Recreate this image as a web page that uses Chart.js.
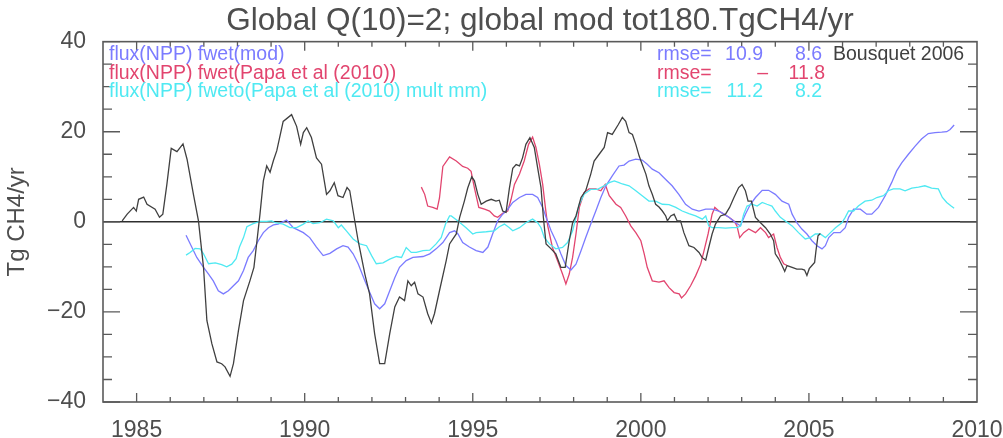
<!DOCTYPE html>
<html lang="en">
<head>
    <meta charset="UTF-8">
    <title>Global Q(10)=2; global mod tot180.TgCH4/yr</title>
    <style>
        html, body {
            margin: 0;
            padding: 0;
            background: #ffffff;
        }
        #wrap {
            width: 1003px;
            height: 438px;
        }
    </style>
    <script src="https://cdn.jsdelivr.net/npm/chart.js"></script>
</head>
<body>
    <div id="wrap"><canvas id="fluxChart" width="1003" height="438"></canvas></div>

    <script>
        // [year, Tg CH4/yr]
        const bousquet = [
            [1984.57, 0.2], [1984.72, 1.7], [1984.91, 3.2], [1984.99, 2.4], [1985.06, 5.0], [1985.21, 5.5],
            [1985.31, 3.9], [1985.55, 2.8], [1985.68, 1.0], [1985.78, 1.7], [1985.90, 8.3], [1986.03, 16.3],
            [1986.20, 15.6], [1986.38, 17.3], [1986.50, 13.9], [1986.69, 6.1], [1986.84, 0.2], [1986.99, -10.1],
            [1987.09, -21.9], [1987.24, -27.1], [1987.39, -31.1], [1987.53, -31.5], [1987.63, -32.2], [1987.78, -34.3],
            [1987.88, -31.5], [1988.03, -24.1], [1988.18, -17.5], [1988.37, -13.1], [1988.49, -10.1], [1988.57, -4.9],
            [1988.67, 1.7], [1988.77, 9.1], [1988.87, 12.4], [1988.97, 11.0], [1989.07, 13.6], [1989.17, 15.8],
            [1989.36, 22.3], [1989.61, 23.8], [1989.76, 21.2], [1989.88, 17.2], [1989.96, 19.8], [1990.06, 20.9],
            [1990.20, 18.7], [1990.35, 14.2], [1990.50, 12.8], [1990.65, 6.1], [1990.75, 6.9], [1990.88, 8.7],
            [1990.99, 5.8], [1991.14, 5.4], [1991.26, 7.6], [1991.34, 6.9], [1991.44, 2.4], [1991.59, -4.2],
            [1991.79, -11.6], [1991.93, -16.0], [1992.08, -24.8], [1992.23, -31.5], [1992.38, -31.5], [1992.53, -24.8],
            [1992.68, -18.9], [1992.82, -16.7], [1992.97, -17.5], [1993.07, -13.1], [1993.17, -14.2], [1993.27, -13.4],
            [1993.37, -16.0], [1993.52, -16.7], [1993.66, -20.4], [1993.77, -22.5], [1993.86, -20.4], [1994.01, -15.3],
            [1994.21, -8.6], [1994.31, -4.9], [1994.41, -3.8], [1994.51, -2.7], [1994.61, 1.0], [1994.75, 4.6],
            [1994.85, 7.5], [1994.97, 10.0], [1995.05, 9.1], [1995.15, 6.1], [1995.25, 3.9], [1995.40, 4.6],
            [1995.55, 5.0], [1995.69, 4.6], [1995.79, 4.8], [1995.89, 2.4], [1995.99, 2.1], [1996.09, 7.5],
            [1996.19, 11.9], [1996.29, 12.7], [1996.39, 12.4], [1996.48, 14.2], [1996.58, 17.2], [1996.70, 18.7],
            [1996.83, 16.5], [1996.93, 12.0], [1997.03, 7.6], [1997.10, 1.0], [1997.18, -4.9], [1997.33, -6.0],
            [1997.47, -7.1], [1997.62, -10.1], [1997.75, -10.1], [1997.87, -4.2], [1997.97, -0.2], [1998.07, 1.3],
            [1998.22, 5.4], [1998.36, 6.9], [1998.51, 10.6], [1998.61, 13.5], [1998.76, 15.0], [1998.91, 16.5],
            [1999.01, 19.8], [1999.15, 19.4], [1999.33, 21.6], [1999.45, 23.2], [1999.55, 22.3], [1999.65, 19.8],
            [1999.75, 19.4], [1999.85, 17.2], [1999.95, 14.6], [2000.04, 12.8], [2000.15, 10.6], [2000.24, 8.0],
            [2000.34, 6.1], [2000.44, 3.9], [2000.54, 3.3], [2000.64, 2.4], [2000.74, 1.3], [2000.79, 0.2],
            [2000.89, 1.3], [2000.99, 1.7], [2001.08, 0.2], [2001.18, 0.2], [2001.28, -2.4], [2001.43, -5.3],
            [2001.58, -5.7], [2001.73, -6.8], [2001.82, -7.9], [2001.93, -8.5], [2002.02, -5.7], [2002.12, -2.7],
            [2002.22, -0.5], [2002.37, 1.3], [2002.52, 1.7], [2002.64, 3.2], [2002.77, 5.4], [2002.91, 7.6],
            [2003.01, 8.3], [2003.11, 6.9], [2003.19, 4.6], [2003.29, 4.6], [2003.41, 1.0], [2003.56, -0.2],
            [2003.71, -1.3], [2003.85, -2.7], [2003.95, -4.2], [2004.00, -7.1], [2004.10, -8.2], [2004.20, -9.7],
            [2004.28, -11.0], [2004.35, -9.7], [2004.50, -10.1], [2004.64, -10.5], [2004.79, -10.5], [2004.87, -10.7],
            [2004.94, -11.9], [2005.01, -10.4], [2005.09, -9.7], [2005.17, -9.0], [2005.21, -6.4], [2005.27, -3.1],
            [2005.34, -2.6]
        ];

        const fwetMod = [
            [1986.47, -3.0], [1986.64, -5.6], [1986.79, -7.9], [1986.99, -10.1], [1987.14, -11.6], [1987.28, -13.1],
            [1987.43, -15.3], [1987.58, -16.0], [1987.73, -15.3], [1987.88, -14.2], [1988.03, -13.1], [1988.18, -10.8],
            [1988.32, -7.9], [1988.47, -6.4], [1988.62, -4.2], [1988.77, -2.4], [1988.92, -1.3], [1989.07, -0.7],
            [1989.21, -0.5], [1989.46, 0.4], [1989.66, -1.3], [1989.96, -2.4], [1990.15, -3.5], [1990.35, -5.6],
            [1990.55, -7.5], [1990.75, -7.0], [1990.95, -6.0], [1991.14, -5.3], [1991.29, -5.6], [1991.44, -7.1],
            [1991.59, -9.3], [1991.79, -13.1], [1991.93, -15.6], [1992.08, -18.2], [1992.23, -19.3], [1992.38, -18.2],
            [1992.53, -15.3], [1992.68, -12.4], [1992.82, -10.1], [1993.02, -8.6], [1993.22, -7.9], [1993.52, -7.7],
            [1993.72, -7.1], [1993.91, -6.0], [1994.11, -4.6], [1994.31, -2.4], [1994.46, -2.0], [1994.56, -2.7],
            [1994.70, -4.6], [1994.90, -5.6], [1995.10, -6.4], [1995.30, -6.8], [1995.45, -5.6], [1995.59, -2.7],
            [1995.74, 0.2], [1995.89, 1.7], [1996.04, 2.8], [1996.19, 4.3], [1996.39, 5.4], [1996.58, 6.1],
            [1996.78, 6.1], [1996.93, 5.4], [1997.08, 3.2], [1997.18, 1.0], [1997.33, -2.0], [1997.47, -4.2],
            [1997.62, -7.1], [1997.77, -9.7], [1997.92, -10.7], [1998.07, -9.4], [1998.22, -6.4], [1998.36, -3.5],
            [1998.51, -0.5], [1998.66, 2.4], [1998.81, 5.4], [1998.96, 8.0], [1999.15, 10.2], [1999.35, 12.4],
            [1999.50, 12.6], [1999.65, 13.5], [1999.85, 13.9], [2000.04, 13.7], [2000.19, 12.8], [2000.34, 11.7],
            [2000.54, 10.9], [2000.74, 9.4], [2000.93, 8.0], [2001.13, 6.1], [2001.33, 3.9], [2001.53, 2.8],
            [2001.73, 2.4], [2001.93, 2.8], [2002.12, 2.8], [2002.32, 2.4], [2002.47, 1.7], [2002.62, 1.0],
            [2002.82, -0.2], [2002.96, -0.9], [2003.11, 1.7], [2003.26, 3.9], [2003.41, 5.4], [2003.61, 7.0],
            [2003.80, 7.0], [2004.00, 6.1], [2004.20, 4.6], [2004.40, 3.9], [2004.50, 1.7], [2004.64, -0.2],
            [2004.79, -1.6], [2004.94, -2.7], [2005.09, -4.2], [2005.24, -5.3], [2005.39, -6.0], [2005.49, -5.3],
            [2005.59, -3.5], [2005.74, -2.4], [2005.93, -2.4], [2006.08, -1.3], [2006.18, 1.0], [2006.33, 2.8],
            [2006.53, 2.8], [2006.72, 1.7], [2006.87, 1.7], [2007.07, 3.2], [2007.27, 5.8], [2007.46, 8.7],
            [2007.61, 11.3], [2007.76, 13.1], [2007.96, 15.0], [2008.16, 16.8], [2008.35, 18.4], [2008.55, 19.6],
            [2008.75, 19.8], [2008.95, 19.9], [2009.10, 20.0], [2009.20, 20.5], [2009.32, 21.5]
        ];

        const fwetPapa = [
            [1993.47, 7.7], [1993.57, 6.1], [1993.66, 3.5], [1993.81, 3.2], [1993.94, 2.8], [1994.01, 5.3],
            [1994.11, 12.3], [1994.31, 14.4], [1994.51, 13.5], [1994.70, 12.3], [1994.85, 11.9], [1994.95, 11.2],
            [1995.05, 7.5], [1995.18, 3.2], [1995.35, 2.8], [1995.50, 2.4], [1995.64, 1.3], [1995.74, 1.0],
            [1995.89, 1.9], [1996.04, 2.4], [1996.14, 5.0], [1996.24, 8.3], [1996.39, 10.6], [1996.53, 13.5],
            [1996.66, 17.2], [1996.78, 18.8], [1996.88, 16.5], [1996.98, 12.8], [1997.08, 8.3], [1997.16, 3.2],
            [1997.23, -0.9], [1997.37, -5.7], [1997.52, -8.6], [1997.67, -11.6], [1997.77, -13.8], [1997.87, -11.6],
            [1997.97, -7.9], [1998.07, -2.7], [1998.17, 3.2], [1998.31, 6.5], [1998.46, 7.3], [1998.66, 7.3],
            [1998.81, 6.9], [1998.94, 8.3], [1999.06, 5.8], [1999.26, 3.9], [1999.40, 3.2], [1999.55, 1.3],
            [1999.70, -0.9], [1999.85, -2.4], [2000.00, -4.2], [2000.10, -7.1], [2000.19, -10.1], [2000.34, -13.1],
            [2000.54, -13.4], [2000.69, -13.1], [2000.84, -14.6], [2000.99, -15.7], [2001.14, -16.0], [2001.21, -16.9],
            [2001.33, -16.0], [2001.48, -14.2], [2001.63, -12.0], [2001.78, -9.4], [2001.88, -6.4], [2002.00, -2.7],
            [2002.12, 1.7], [2002.20, 3.2], [2002.32, 2.4], [2002.47, 1.7], [2002.62, 1.0], [2002.77, 0.2],
            [2002.86, -0.9], [2002.94, -3.5], [2003.06, -2.4], [2003.21, -1.6], [2003.41, -2.4], [2003.56, -1.3],
            [2003.71, -2.4], [2003.80, -3.5], [2003.95, -2.7], [2004.05, -5.7], [2004.15, -7.9], [2004.25, -9.3],
            [2004.35, -9.7]
        ];

        const fwetoPapaMult = [
            [1986.47, -7.4], [1986.59, -6.8], [1986.74, -5.9], [1986.89, -6.0], [1986.99, -7.1], [1987.14, -9.3],
            [1987.34, -9.1], [1987.53, -9.5], [1987.68, -10.0], [1987.83, -9.4], [1987.96, -8.2], [1988.06, -5.6],
            [1988.18, -3.5], [1988.28, -1.1], [1988.47, -0.4], [1988.67, 0.1], [1988.87, 0.1], [1989.02, 0.2],
            [1989.12, -0.2], [1989.36, -0.5], [1989.56, -1.3], [1989.76, -1.3], [1989.96, -0.5], [1990.10, 0.2],
            [1990.25, -0.4], [1990.45, -0.2], [1990.65, 0.6], [1990.85, 0.2], [1991.00, -1.3], [1991.09, -0.7],
            [1991.24, -2.0], [1991.44, -3.8], [1991.64, -4.9], [1991.84, -5.3], [1991.99, -7.5], [1992.13, -9.3],
            [1992.33, -9.1], [1992.53, -8.3], [1992.73, -7.7], [1992.88, -7.9], [1993.02, -5.7], [1993.17, -6.8],
            [1993.32, -6.8], [1993.52, -6.4], [1993.72, -6.3], [1993.91, -4.9], [1994.06, -3.5], [1994.19, -0.5],
            [1994.31, 1.3], [1994.36, 1.3], [1994.56, 0.2], [1994.80, -1.3], [1995.00, -2.7], [1995.10, -2.4],
            [1995.40, -2.2], [1995.64, -2.0], [1995.79, -1.1], [1995.94, -0.5], [1996.09, -1.3], [1996.19, -2.0],
            [1996.39, -1.3], [1996.58, -0.2], [1996.78, 0.6], [1996.93, -0.2], [1997.03, -1.3], [1997.13, -3.5],
            [1997.28, -4.9], [1997.47, -6.0], [1997.67, -5.7], [1997.82, -4.6], [1997.97, -2.0], [1998.07, 1.0],
            [1998.17, 3.9], [1998.31, 6.1], [1998.51, 7.2], [1998.71, 7.2], [1998.91, 8.0], [1999.06, 8.7],
            [1999.21, 9.1], [1999.35, 8.7], [1999.45, 8.4], [1999.65, 8.0], [1999.85, 6.9], [2000.04, 5.8],
            [2000.24, 4.6], [2000.44, 4.6], [2000.64, 3.9], [2000.84, 3.8], [2001.04, 3.2], [2001.23, 2.4],
            [2001.43, 1.8], [2001.63, 1.3], [2001.83, 0.6], [2001.93, 1.3], [2002.02, -0.9], [2002.12, -1.3],
            [2002.32, -1.3], [2002.52, -1.4], [2002.72, -1.3], [2002.87, -1.3], [2002.97, -0.9], [2003.06, 1.7],
            [2003.16, 3.5], [2003.31, 3.9], [2003.46, 3.5], [2003.61, 4.3], [2003.75, 3.9], [2003.90, 3.5],
            [2004.00, 2.4], [2004.15, 1.0], [2004.30, 0.2], [2004.50, -0.9], [2004.69, -2.4], [2004.89, -3.8],
            [2005.04, -3.5], [2005.19, -2.7], [2005.34, -2.7], [2005.49, -3.5], [2005.64, -2.4], [2005.79, -1.3],
            [2005.98, -0.2], [2006.08, 1.0], [2006.18, 2.4], [2006.33, 2.4], [2006.47, 3.5], [2006.67, 4.6],
            [2006.87, 4.8], [2007.02, 5.4], [2007.22, 5.8], [2007.36, 6.9], [2007.51, 7.3], [2007.71, 7.3],
            [2007.86, 6.9], [2008.06, 7.5], [2008.26, 7.7], [2008.45, 8.0], [2008.65, 7.5], [2008.85, 7.3],
            [2008.97, 5.4], [2009.10, 4.3], [2009.23, 3.5], [2009.32, 3.0]
        ];

        // axes
        const xLimits = [1984, 2010];
        const yLimits = [-40, 40];
        const xTickLabels = [1985, 1990, 1995, 2000, 2005, 2010];
        const xMinorTicks = [1985, 1986, 1987, 1988, 1989, 1990, 1991, 1992, 1993, 1994, 1995, 1996, 1997,
            1998, 1999, 2000, 2001, 2002, 2003, 2004, 2005, 2006, 2007, 2008, 2009];
        const yTickLabels = [-40, -20, 0, 20, 40];
        const yMinorTicks = [-35, -30, -25, -15, -10, -5, 5, 10, 15, 25, 30, 35];

        // legend text
        const seriesNames = ['flux(NPP) fwet(mod)', 'flux(NPP) fwet(Papa et al (2010))', 'flux(NPP) fweto(Papa et al (2010) mult mm)'];
        const rmseFirst = ['10.9', '\u2013', '11.2'];
        const rmseSecond = ['8.6', '11.8', '8.2'];
        const seriesColors = ['#7b7bff', '#e2456f', '#4fe9f2'];
        const refColor = '#404040';
        const textColor = '#4e4e4e';

        const FONT = '"Liberation Sans", Arial, sans-serif';

        const toPoints = arr => arr.map(p => ({ x: p[0], y: p[1] }));

        // frame, inward ticks, zero line and the text block in the top-left
        const idlFrame = {
            id: 'idlFrame',
            beforeDatasetsDraw(chart) {
                const { ctx, chartArea: a, scales: { y } } = chart;
                const y0 = y.getPixelForValue(0);
                ctx.save();
                ctx.strokeStyle = '#2e2e2e';
                ctx.lineWidth = 1.5;
                ctx.beginPath();
                ctx.moveTo(a.left, y0);
                ctx.lineTo(a.right, y0);
                ctx.stroke();
                ctx.restore();
            },
            afterDatasetsDraw(chart) {
                const { ctx, chartArea: a, scales: { x, y } } = chart;
                ctx.save();
                ctx.strokeStyle = '#5a5a5a';
                ctx.lineWidth = 1.6;
                ctx.strokeRect(a.left, a.top, a.right - a.left, a.bottom - a.top);

                ctx.lineWidth = 1.3;
                ctx.beginPath();
                xMinorTicks.forEach(v => {
                    const px = x.getPixelForValue(v);
                    const len = xTickLabels.includes(v) ? 9 : 5;
                    ctx.moveTo(px, a.bottom); ctx.lineTo(px, a.bottom - len);
                    ctx.moveTo(px, a.top); ctx.lineTo(px, a.top + len);
                });
                yTickLabels.concat(yMinorTicks).forEach(v => {
                    const py = y.getPixelForValue(v);
                    const len = yTickLabels.includes(v) ? 17 : 9;
                    ctx.moveTo(a.left, py); ctx.lineTo(a.left + len, py);
                    ctx.moveTo(a.right, py); ctx.lineTo(a.right - len, py);
                });
                ctx.stroke();

                ctx.font = '19.5px ' + FONT;
                ctx.textBaseline = 'middle';
                const rows = [a.top + 13, a.top + 31.5, a.top + 50];
                seriesNames.forEach((name, i) => {
                    ctx.fillStyle = seriesColors[i];
                    ctx.textAlign = 'left';
                    ctx.fillText(name, a.left + 6, rows[i]);
                    ctx.fillText('rmse=', 657, rows[i]);
                    ctx.textAlign = 'right';
                    ctx.fillText(rmseFirst[i], i === 1 ? 768 : 763, rows[i]);
                    ctx.fillText(rmseSecond[i], i === 1 ? 825 : 822, rows[i]);
                });
                ctx.fillStyle = refColor;
                ctx.textAlign = 'left';
                ctx.fillText('Bousquet 2006', 833, rows[0]);
                ctx.restore();
            }
        };

        const makeSet = (label, arr, color) => ({
            label: label,
            data: toPoints(arr),
            borderColor: color,
            backgroundColor: color,
            borderWidth: 1.3,
            pointRadius: 0,
            tension: 0,
            fill: false
        });

        new Chart(document.getElementById('fluxChart').getContext('2d'), {
            type: 'line',
            data: {
                datasets: [
                    makeSet('Bousquet 2006', bousquet, refColor),
                    makeSet(seriesNames[2], fwetoPapaMult, seriesColors[2]),
                    makeSet(seriesNames[0], fwetMod, seriesColors[0]),
                    makeSet(seriesNames[1], fwetPapa, seriesColors[1])
                ]
            },
            options: {
                responsive: false,
                animation: false,
                devicePixelRatio: 1,
                layout: { padding: { left: 0, right: 26, top: 0, bottom: 0 } },
                plugins: {
                    legend: { display: false },
                    tooltip: { enabled: false },
                    title: {
                        display: true,
                        fullSize: false,
                        text: 'Global Q(10)=2; global mod tot180.TgCH4/yr',
                        color: textColor,
                        font: { family: FONT, size: 31.5, weight: 'normal', lineHeight: 1.1 },
                        padding: { top: 4, bottom: 3 }
                    }
                },
                scales: {
                    x: {
                        type: 'linear',
                        min: xLimits[0],
                        max: xLimits[1],
                        afterBuildTicks: s => { s.ticks = xTickLabels.map(v => ({ value: v })); },
                        afterFit: s => { s.height = 36; s.paddingLeft = 0; s.paddingRight = 0; },
                        grid: { display: false },
                        border: { display: false },
                        ticks: {
                            color: textColor,
                            padding: 7,
                            maxRotation: 0,
                            font: { family: FONT, size: 23 },
                            callback: v => String(v)
                        }
                    },
                    y: {
                        min: yLimits[0],
                        max: yLimits[1],
                        afterBuildTicks: s => { s.ticks = yTickLabels.map(v => ({ value: v })); },
                        afterFit: s => { s.width = 103; },
                        grid: { display: false },
                        border: { display: false },
                        title: {
                            display: true,
                            text: 'Tg CH4/yr',
                            color: textColor,
                            font: { family: FONT, size: 24 },
                            padding: { top: 3, bottom: 0 }
                        },
                        ticks: {
                            color: textColor,
                            padding: 9,
                            font: { family: FONT, size: 23 },
                            callback: v => (v < 0 ? '\u2212' + Math.abs(v) : String(v))
                        }
                    }
                }
            },
            plugins: [idlFrame]
        });
    </script>
</body>
</html>
